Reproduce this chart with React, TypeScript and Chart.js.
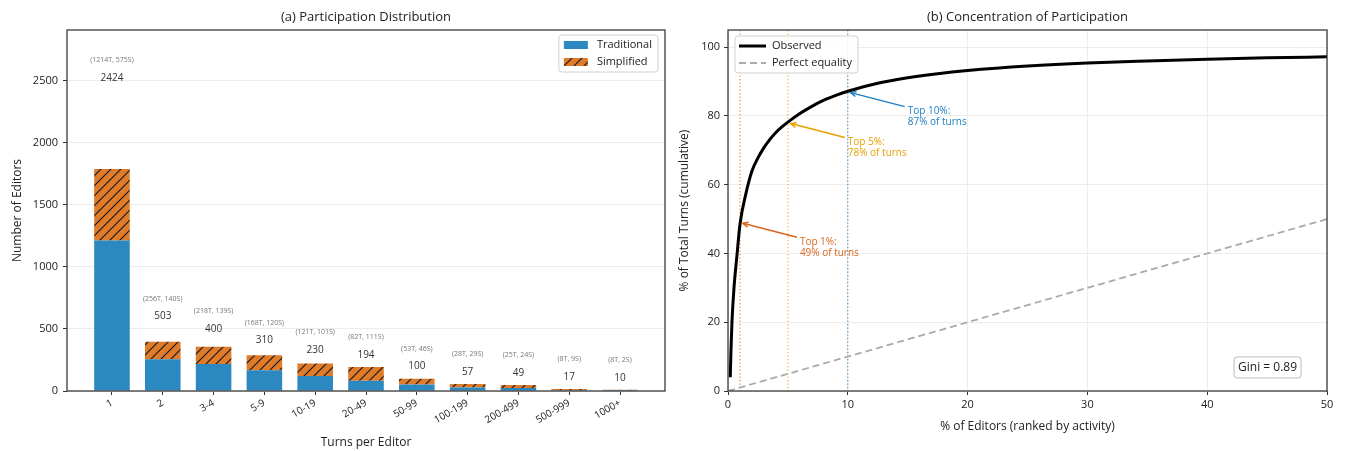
import { useEffect, useRef } from 'react';
import { Chart, registerables } from 'chart.js';
Chart.register(...registerables);

// ---------- data ----------
const categories = ['1', '2', '3-4', '5-9', '10-19', '20-49', '50-99', '100-199', '200-499', '500-999', '1000+'];
const traditional = [1214, 256, 218, 168, 121, 82, 53, 28, 25, 8, 8];
const simplified = [575, 140, 139, 120, 101, 111, 46, 29, 24, 9, 2];
const totals = [2424, 503, 400, 310, 230, 194, 100, 57, 49, 17, 10];
const leftYTicks = [0, 500, 1000, 1500, 2000, 2500];

const lorenzX = [0.19, 0.25, 0.33, 0.5, 0.75, 1.0, 1.5, 2.0, 2.5, 3.0, 3.5, 4.0, 4.5, 5.0, 6.0, 7.0, 8.0, 9.0, 10, 12.5, 15, 17.5, 20, 25, 30, 35, 40, 45, 50];
const lorenzY = [4, 12, 20, 30, 39.5, 48.5, 57.5, 64, 67.8, 70.8, 73.2, 75.2, 76.8, 78.2, 80.7, 82.8, 84.6, 86.0, 87.2, 89.5, 91.1, 92.3, 93.2, 94.5, 95.4, 96.0, 96.5, 96.9, 97.2];
const equalityX = [0, 50];
const equalityY = [0, 50];
const rightXTicks = [0, 10, 20, 30, 40, 50];
const rightYTicks = [0, 20, 40, 60, 80, 100];

const topPct = [1, 5, 10];
const topShare = [49, 78, 87];
const topColors = ['#d9661f', '#e8a000', '#1f7fc4'];
const giniValue = 0.89;

// ---------- styles ----------
const FONT = '"Open Sans", Lato, sans-serif';
const BLUE = '#2c88c1';
const ORANGE = '#e07b2a';
const GRID = '#ececec';
const AXIS = '#333333';
const TEXT = '#222222';

function makeHatch(bg: string): CanvasPattern | string {
  const s = 10;
  const c = document.createElement('canvas');
  c.width = s;
  c.height = s;
  const g = c.getContext('2d');
  if (!g) return bg;
  g.fillStyle = bg;
  g.fillRect(0, 0, s, s);
  g.strokeStyle = '#1a1a1a';
  g.lineWidth = 1.2;
  g.beginPath();
  g.moveTo(0, s);
  g.lineTo(s, 0);
  g.moveTo(-s / 2, s / 2);
  g.lineTo(s / 2, -s / 2);
  g.moveTo(s / 2, s * 1.5);
  g.lineTo(s * 1.5, s / 2);
  g.stroke();
  return g.createPattern(c, 'repeat') || bg;
}

function drawFrame(chart: any) {
  const { ctx, chartArea: a } = chart;
  ctx.save();
  ctx.strokeStyle = AXIS;
  ctx.lineWidth = 1.25;
  ctx.strokeRect(a.left, a.top, a.right - a.left, a.bottom - a.top);
  ctx.restore();
}

function drawTitle(chart: any, text: string) {
  const { ctx, chartArea: a } = chart;
  ctx.save();
  ctx.font = `13px ${FONT}`;
  ctx.fillStyle = TEXT;
  ctx.textAlign = 'center';
  ctx.textBaseline = 'middle';
  ctx.fillText(text, (a.left + a.right) / 2, 17);
  ctx.restore();
}

function roundRect(ctx: CanvasRenderingContext2D, x: number, y: number, w: number, h: number, r: number) {
  ctx.beginPath();
  ctx.moveTo(x + r, y);
  ctx.lineTo(x + w - r, y);
  ctx.arcTo(x + w, y, x + w, y + r, r);
  ctx.lineTo(x + w, y + h - r);
  ctx.arcTo(x + w, y + h, x + w - r, y + h, r);
  ctx.lineTo(x + r, y + h);
  ctx.arcTo(x, y + h, x, y + h - r, r);
  ctx.lineTo(x, y + r);
  ctx.arcTo(x, y, x + r, y, r);
  ctx.closePath();
}

function legendBox(ctx: CanvasRenderingContext2D, x: number, y: number, w: number, h: number) {
  ctx.save();
  roundRect(ctx, x, y, w, h, 3);
  ctx.fillStyle = 'rgba(255,255,255,0.85)';
  ctx.fill();
  ctx.strokeStyle = '#d0d0d0';
  ctx.lineWidth = 1;
  ctx.stroke();
  ctx.restore();
}

const fixWidth = (w: number) => (scale: any) => {
  scale.width = w;
};
const fixHeight = (h: number) => (scale: any) => {
  scale.height = h;
};
const setTicks = (vals: number[]) => (scale: any) => {
  scale.ticks = vals.map((v) => ({ value: v }));
};

// ---------- left chart ----------
function leftConfig(): any {
  const hatch = makeHatch(ORANGE);
  const labelPlugin = {
    id: 'barLabels',
    afterDatasetsDraw(chart: any) {
      const { ctx } = chart;
      const xs = chart.scales.x;
      const ys = chart.scales.y;
      ctx.save();
      ctx.textAlign = 'center';
      ctx.textBaseline = 'middle';
      totals.forEach((t, i) => {
        const x = xs.getPixelForValue(i);
        const y = ys.getPixelForValue(t);
        ctx.font = `10px ${FONT}`;
        ctx.fillStyle = '#333';
        ctx.fillText(String(t), x, y - 12);
        ctx.font = `7px ${FONT}`;
        ctx.fillStyle = '#777';
        ctx.fillText(`(${traditional[i]}T, ${simplified[i]}S)`, x, y - 30);
      });
      ctx.restore();
    },
    afterDraw(chart: any) {
      drawFrame(chart);
      drawTitle(chart, '(a) Participation Distribution');
      const { ctx, chartArea: a } = chart;
      ctx.save();
      ctx.font = `11px ${FONT}`;
      const ds = chart.data.datasets;
      const tw = Math.max(...ds.map((d: any) => ctx.measureText(d.label).width));
      const w = 38 + tw + 6;
      const h = 37;
      const bx = a.right - 7 - w;
      const by = a.top + 5;
      legendBox(ctx, bx, by, w, h);
      ds.forEach((d: any, i: number) => {
        const cy = by + 10 + i * 17;
        ctx.fillStyle = d.backgroundColor;
        ctx.fillRect(bx + 5, cy - 4, 24, 8);
        ctx.fillStyle = TEXT;
        ctx.textAlign = 'left';
        ctx.textBaseline = 'middle';
        ctx.fillText(d.label, bx + 38, cy);
      });
      ctx.restore();
    },
  };

  return {
    type: 'bar',
    data: {
      datasets: [
        {
          label: 'Traditional',
          data: categories.map((_, i) => ({ x: i, y: traditional[i] })),
          backgroundColor: BLUE,
          stack: 's',
        },
        {
          label: 'Simplified',
          data: categories.map((_, i) => ({ x: i, y: simplified[i] })),
          backgroundColor: hatch,
          stack: 's',
        },
      ],
    },
    options: {
      responsive: false,
      animation: false,
      layout: { padding: { top: 30, right: 8, left: 0, bottom: 0 } },
      categoryPercentage: 1,
      barPercentage: 0.7,
      plugins: { legend: { display: false }, tooltip: { enabled: false }, title: { display: false } },
      scales: {
        x: {
          type: 'linear',
          stacked: true,
          min: -0.885,
          max: 10.885,
          offset: false,
          afterBuildTicks: setTicks(categories.map((_, i) => i)),
          afterFit: fixHeight(60),
          border: { display: false },
          grid: { offset: false, drawOnChartArea: false, tickLength: 4, tickColor: AXIS, color: AXIS },
          ticks: {
            autoSkip: false,
            minRotation: 30,
            maxRotation: 30,
            padding: 2,
            color: TEXT,
            font: { family: FONT, size: 10 },
            callback: (v: number) => categories[v] ?? '',
          },
          title: {
            display: true,
            text: 'Turns per Editor',
            color: TEXT,
            font: { family: FONT, size: 12 },
            padding: { top: 0, bottom: 1 },
          },
        },
        y: {
          stacked: true,
          min: 0,
          max: 2910,
          afterBuildTicks: setTicks(leftYTicks),
          afterFit: fixWidth(67),
          border: { display: false },
          grid: { color: GRID, tickLength: 4, tickColor: AXIS },
          ticks: { padding: 5, color: TEXT, font: { family: FONT, size: 11 }, callback: (v: number) => String(v) },
          title: {
            display: true,
            text: 'Number of Editors',
            color: TEXT,
            font: { family: FONT, size: 12 },
            padding: { top: 10, bottom: 0 },
          },
        },
      },
    },
    plugins: [labelPlugin],
  };
}

// ---------- right chart ----------
function rightConfig(): any {
  const plugin = {
    id: 'lorenzExtras',
    beforeDatasetsDraw(chart: any) {
      const { ctx, chartArea: a } = chart;
      const xs = chart.scales.x;
      ctx.save();
      ctx.lineWidth = 1.2;
      ctx.setLineDash([1.3, 2.2]);
      topPct.forEach((p, i) => {
        const x = xs.getPixelForValue(p);
        ctx.strokeStyle = topColors[i];
        ctx.globalAlpha = 0.8;
        ctx.beginPath();
        ctx.moveTo(x, a.top);
        ctx.lineTo(x, a.bottom);
        ctx.stroke();
      });
      ctx.restore();
    },
    afterDatasetsDraw(chart: any) {
      const { ctx, chartArea: a } = chart;
      const xs = chart.scales.x;
      const ys = chart.scales.y;
      ctx.save();
      topPct.forEach((p, i) => {
        const hx0 = xs.getPixelForValue(p);
        const hy0 = ys.getPixelForValue(topShare[i]);
        const tx = xs.getPixelForValue(p + 5);
        const ty = ys.getPixelForValue(topShare[i] - 4);
        const tailX = tx - 3;
        const tailY = ty + 1;
        const dx = tailX - hx0;
        const dy = tailY - hy0;
        const len = Math.hypot(dx, dy);
        const ux = dx / len;
        const uy = dy / len;
        const hx = hx0 + ux * 3;
        const hy = hy0 + uy * 3;
        ctx.strokeStyle = topColors[i];
        ctx.lineWidth = 1.5;
        ctx.beginPath();
        ctx.moveTo(tailX, tailY);
        ctx.lineTo(hx, hy);
        ctx.stroke();
        const hl = 6;
        const ang = Math.atan2(uy, ux);
        ctx.beginPath();
        ctx.moveTo(hx + hl * Math.cos(ang + 0.45), hy + hl * Math.sin(ang + 0.45));
        ctx.lineTo(hx, hy);
        ctx.lineTo(hx + hl * Math.cos(ang - 0.45), hy + hl * Math.sin(ang - 0.45));
        ctx.stroke();
        ctx.fillStyle = topColors[i];
        ctx.font = `10px ${FONT}`;
        ctx.textAlign = 'left';
        ctx.textBaseline = 'middle';
        ctx.fillText(`Top ${p}%:`, tx, ty + 5.5);
        ctx.fillText(`${topShare[i]}% of turns`, tx, ty + 16.5);
      });
      ctx.font = `12px ${FONT}`;
      const gt = `Gini = ${giniValue.toFixed(2)}`;
      const gw = ctx.measureText(gt).width;
      const w = a.right - a.left;
      const h = a.bottom - a.top;
      const textRight = a.right - 0.05 * w;
      const textBottom = a.bottom - 0.05 * h;
      const bx = textRight - gw - 4;
      const by = textBottom - 16;
      roundRect(ctx, bx, by, gw + 8, 21, 3);
      ctx.fillStyle = 'rgba(255,255,255,0.85)';
      ctx.fill();
      ctx.strokeStyle = '#bbbbbb';
      ctx.lineWidth = 1;
      ctx.stroke();
      ctx.fillStyle = TEXT;
      ctx.textAlign = 'left';
      ctx.textBaseline = 'middle';
      ctx.fillText(gt, bx + 4, by + 10.5);
      ctx.restore();
    },
    afterDraw(chart: any) {
      drawFrame(chart);
      drawTitle(chart, '(b) Concentration of Participation');
      const { ctx, chartArea: a } = chart;
      ctx.save();
      ctx.font = `11px ${FONT}`;
      const ds = chart.data.datasets;
      const tw = Math.max(...ds.map((d: any) => ctx.measureText(d.label).width));
      const w = 37 + tw + 6;
      const h = 37;
      const bx = a.left + 7;
      const by = a.top + 6;
      legendBox(ctx, bx, by, w, h);
      ds.forEach((d: any, i: number) => {
        const cy = by + 10 + i * 17;
        ctx.strokeStyle = d.borderColor;
        ctx.lineWidth = d.borderWidth;
        ctx.setLineDash(d.borderDash || []);
        ctx.beginPath();
        ctx.moveTo(bx + 4, cy);
        ctx.lineTo(bx + 31, cy);
        ctx.stroke();
        ctx.setLineDash([]);
        ctx.fillStyle = TEXT;
        ctx.textAlign = 'left';
        ctx.textBaseline = 'middle';
        ctx.fillText(d.label, bx + 37, cy);
      });
      ctx.restore();
    },
  };

  return {
    type: 'line',
    data: {
      datasets: [
        {
          label: 'Observed',
          data: lorenzX.map((x, i) => ({ x, y: lorenzY[i] })),
          borderColor: '#000000',
          borderWidth: 3,
          pointRadius: 0,
          cubicInterpolationMode: 'monotone',
          fill: false,
          order: 0,
        },
        {
          label: 'Perfect equality',
          data: equalityX.map((x, i) => ({ x, y: equalityY[i] })),
          borderColor: '#aaaaaa',
          borderWidth: 1.8,
          borderDash: [7, 4],
          pointRadius: 0,
          fill: false,
          order: 1,
        },
      ],
    },
    options: {
      responsive: false,
      animation: false,
      layout: { padding: { top: 30, right: 19, left: 0, bottom: 0 } },
      plugins: { legend: { display: false }, tooltip: { enabled: false }, title: { display: false } },
      scales: {
        x: {
          type: 'linear',
          min: 0,
          max: 50,
          afterBuildTicks: setTicks(rightXTicks),
          afterFit: fixHeight(60),
          border: { display: false },
          grid: { color: GRID, tickLength: 4, tickColor: AXIS },
          ticks: { padding: 3, color: TEXT, font: { family: FONT, size: 11 } },
          title: {
            display: true,
            text: '% of Editors (ranked by activity)',
            color: TEXT,
            font: { family: FONT, size: 12 },
            padding: { top: 0, bottom: 17 },
          },
        },
        y: {
          type: 'linear',
          min: 0,
          max: 105,
          afterBuildTicks: setTicks(rightYTicks),
          afterFit: fixWidth(55),
          border: { display: false },
          grid: { color: GRID, tickLength: 4, tickColor: AXIS },
          ticks: { padding: 4, color: TEXT, font: { family: FONT, size: 11 } },
          title: {
            display: true,
            text: '% of Total Turns (cumulative)',
            color: TEXT,
            font: { family: FONT, size: 12 },
            padding: { top: 4, bottom: 0 },
          },
        },
      },
    },
    plugins: [plugin],
  };
}

export default function App() {
  const leftRef = useRef<HTMLCanvasElement>(null);
  const rightRef = useRef<HTMLCanvasElement>(null);
  useEffect(() => {
    if (!leftRef.current || !rightRef.current) return;
    const c1 = new Chart(leftRef.current, leftConfig());
    const c2 = new Chart(rightRef.current, rightConfig());
    return () => {
      c1.destroy();
      c2.destroy();
    };
  }, []);
  return (
    <div style={{ position: 'fixed', left: 0, top: 0, width: 1346, height: 451, background: '#ffffff', overflow: 'hidden' }}>
      <canvas ref={leftRef} width={673} height={451} style={{ position: 'absolute', left: 0, top: 0 }} />
      <canvas ref={rightRef} width={673} height={451} style={{ position: 'absolute', left: 673, top: 0 }} />
    </div>
  );
}
